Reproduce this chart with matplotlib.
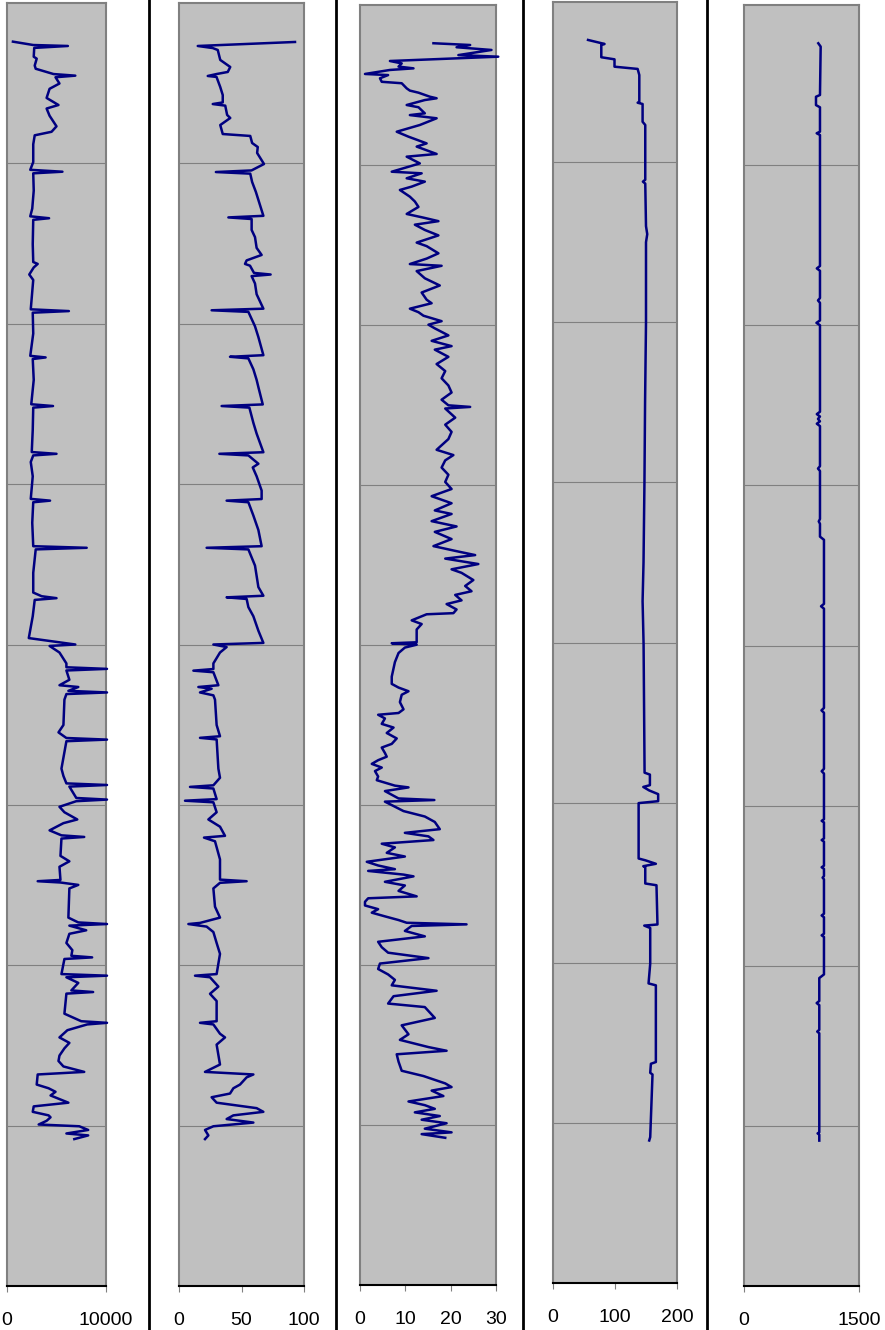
import matplotlib.pyplot as plt
from matplotlib.lines import Line2D
from matplotlib.ticker import FuncFormatter

plt.rcParams['font.family'] = ['Liberation Sans', 'DejaVu Sans']

# (depth, value) readings for each track, depth increasing downwards
track_1 = [(24.1, 600), (26.2, 2650), (26.8, 6150), (28.0, 2750), (33.5, 2700), (34.7, 3000),
           (39.0, 2800), (41.0, 2900), (44.3, 4700), (45.3, 6900), (46.3, 4900), (50.2, 5300),
           (53.5, 4300), (59.2, 4000), (63.6, 5200), (65.8, 4000), (70.3, 4300), (76.9, 5000),
           (80.3, 4500), (82.5, 2800), (88.1, 2650), (99.2, 2650), (104.0, 2350), (105.2, 5600),
           (106.2, 2650), (117.0, 2700), (128.2, 2550), (133.0, 2350), (134.2, 4250), (135.2, 2650),
           (150.4, 2600), (161.5, 2650), (162.7, 3100), (164.9, 2700), (169.3, 2250), (172.7, 2650),
           (191.0, 2400), (192.1, 6250), (193.1, 2600), (206.1, 2650), (220.0, 2350), (221.0, 3900),
           (222.0, 2600), (235.0, 2700), (250.2, 2450), (251.3, 4650), (252.3, 2650), (266.2, 2600),
           (280.0, 2500), (281.1, 5000), (282.1, 2650), (286.2, 2400), (295.1, 2600), (309.2, 2400),
           (310.3, 4350), (311.3, 2650), (324.1, 2550), (338.7, 2650), (339.7, 8050), (340.7, 2900),
           (355.3, 2650), (367.6, 2650), (369.9, 3500), (371.1, 5000), (372.2, 2800), (382.4, 2600),
           (396.0, 2200), (397.8, 4300), (400.0, 6900), (400.9, 4300), (405.0, 5300), (411.8, 6000),
           (414.2, 6000), (415.2, 10100), (416.2, 6000), (422.0, 6300), (425.4, 5300), (426.5, 7200),
           (428.9, 6200), (429.9, 10100), (430.9, 6000), (434.4, 5800), (450.2, 5700), (454.8, 5200),
           (458.3, 6000), (459.3, 10100), (460.3, 6000), (477.4, 5500), (482.0, 5700), (486.6, 6000),
           (487.6, 10100), (488.6, 6300), (495.7, 7000), (496.7, 10100), (497.7, 7000), (501.2, 5300),
           (504.6, 5800), (509.1, 7100), (511.4, 5700), (515.9, 4300), (519.0, 5500), (520.0, 7800),
           (521.0, 5500), (531.8, 5400), (535.2, 6300), (538.6, 5300), (546.8, 5400), (547.6, 3100),
           (548.4, 5400), (549.9, 7200), (552.1, 6300), (570.3, 6200), (573.3, 7200), (574.3, 10100),
           (575.3, 6300), (578.2, 8000), (580.4, 6300), (586.1, 6000), (590.6, 6600), (594.1, 6500),
           (595.1, 8600), (596.1, 5800), (605.5, 5500), (606.5, 10100), (607.5, 6000), (611.0, 7200),
           (615.7, 6500), (616.7, 8700), (617.7, 6000), (630.2, 5800), (634.9, 7500), (635.9, 10100),
           (636.9, 8100), (640.5, 6100), (645.0, 5300), (648.4, 6300), (651.8, 5800), (656.3, 5300),
           (659.7, 5200), (663.1, 5700), (666.5, 7800), (668.1, 3100), (674.4, 3000), (676.7, 4200),
           (678.9, 4900), (681.2, 4400), (685.7, 6200), (688.0, 2700), (691.4, 2600), (693.6, 4200),
           (694.8, 4400), (697.0, 4000), (699.3, 3200), (700.4, 7300), (702.7, 8200), (704.9, 6000),
           (706.1, 8200), (708.4, 6800)]

track_2 = [(24.3, 92.8), (26.8, 15), (28.1, 27), (29.3, 31), (35.5, 33), (39.9, 41), (43.0, 39),
           (44.3, 30), (45.5, 23), (46.1, 30), (52.4, 33), (57.4, 35), (62.0, 35), (63.0, 27),
           (64.0, 37), (69.8, 38.5), (71.7, 41), (76.1, 33), (80.4, 34.5), (81.7, 35), (82.9, 57),
           (87.3, 58.5), (89.8, 63), (93.5, 62.5), (96.6, 65), (100.4, 68), (104.4, 58), (105.4, 29.5),
           (106.4, 57), (111.6, 58.5), (117.8, 61.5), (126.0, 64.8), (132.7, 67.5), (133.7, 39.5),
           (134.7, 58.1), (141.5, 58.1), (146.0, 60.8), (152.7, 62.1), (157.1, 66.1), (160.5, 54.1),
           (162.7, 52.8), (163.8, 56.8), (168.3, 60.0), (169.3, 73.3), (170.3, 58.1), (174.9, 60.8),
           (181.6, 62.1), (190.6, 67.5), (191.6, 26.1), (192.6, 55.5), (201.6, 60.8), (208.3, 63.5),
           (219.6, 67.5), (220.6, 40.8), (221.6, 55.5), (228.4, 59.5), (235.0, 62.1), (239.5, 63.5),
           (250.3, 67.0), (251.3, 34.1), (252.3, 56.3), (261.8, 59.5), (268.5, 62.1), (280.1, 67.5),
           (281.1, 32.3), (282.1, 55.5), (287.3, 63.5), (289.6, 59.0), (295.1, 62.1), (304.0, 66.1),
           (309.3, 66.1), (310.3, 38.1), (311.3, 55.5), (319.6, 59.5), (328.6, 63.5), (338.7, 66.1),
           (339.7, 22.1), (340.7, 55.5), (350.8, 60.8), (364.2, 63.5), (369.6, 67.5), (370.6, 38.1),
           (371.6, 54.1), (376.7, 55.5), (382.4, 59.5), (391.4, 63.5), (399.0, 67.5), (400.0, 27.5),
           (401.6, 38.1), (405.0, 32.8), (411.8, 27.5), (415.3, 27.5), (416.3, 11.5), (417.3, 27.5),
           (425.4, 31.5), (426.5, 15.5), (427.6, 26.1), (429.9, 16.8), (431.7, 27.5), (434.4, 28.8),
           (450.2, 30.1), (457.2, 32.8), (458.2, 16.8), (459.2, 30.1), (477.4, 31.5), (483.1, 32.8),
           (487.8, 27.5), (488.8, 8.8), (489.8, 27.5), (496.4, 30.1), (497.4, 4.8), (498.4, 27.5),
           (504.6, 30.1), (509.1, 23.5), (513.6, 32.8), (519.3, 36.8), (520.4, 20.0), (522.7, 28.8),
           (534.0, 32.8), (546.6, 32.8), (547.6, 54.1), (548.6, 32.8), (552.1, 27.5), (563.5, 28.8),
           (570.3, 32.8), (573.6, 16.8), (574.3, 7.5), (575.9, 22.1), (579.3, 27.5), (586.1, 30.1),
           (592.9, 32.8), (605.5, 30.1), (606.5, 12.8), (607.5, 24.8), (613.3, 31.5), (617.8, 24.8),
           (622.3, 30.1), (634.9, 30.1), (635.9, 16.8), (636.9, 27.5), (642.7, 32.8), (645.0, 36.8),
           (649.5, 30.1), (661.9, 32.8), (666.5, 20.8), (668.1, 59.5), (669.9, 54.1), (674.4, 48.8),
           (676.7, 43.5), (680.0, 40.8), (682.3, 26.1), (685.7, 30.1), (689.1, 62.1), (691.4, 67.5),
           (693.6, 43.5), (695.9, 38.1), (698.1, 59.5), (700.4, 27.5), (702.7, 20.8), (706.1, 23.5),
           (708.4, 20.8)]

track_3 = [(23.9, 16.2), (24.6, 21.7), (25.0, 24.3), (26.4, 21.3), (28.1, 29.0), (31.3, 21.7),
           (32.3, 30.5), (35.0, 6.6), (36.5, 9.2), (38.5, 8.5), (39.6, 11.8), (40.6, 6.6), (43.1, 1.1),
           (43.8, 6.2), (45.8, 4.4), (48.0, 4.8), (48.9, 9.2), (52.1, 10.3), (53.5, 11.0), (54.8, 12.9),
           (57.3, 15.4), (58.3, 16.9), (59.4, 14.3), (62.5, 10.3), (63.9, 12.9), (67.7, 14.3),
           (68.8, 11.0), (70.8, 16.9), (75.0, 13.2), (79.2, 8.1), (82.3, 10.7), (86.5, 14.7),
           (88.5, 12.5), (93.1, 16.9), (94.8, 10.3), (99.0, 13.2), (104.2, 7.0), (105.2, 13.6),
           (108.3, 10.3), (110.4, 14.3), (113.5, 11.4), (115.6, 8.8), (119.8, 11.0), (122.8, 12.1),
           (126.2, 12.9), (130.6, 10.3), (132.9, 14.0), (135.1, 17.3), (137.3, 12.1), (140.6, 14.3),
           (144.0, 17.3), (148.5, 12.5), (150.7, 14.7), (155.2, 17.3), (158.5, 14.7), (161.9, 11.0),
           (163.0, 18.0), (166.3, 12.5), (170.8, 14.3), (175.3, 17.6), (179.7, 13.6), (184.2, 14.7),
           (186.4, 15.8), (189.8, 11.0), (192.0, 12.9), (194.2, 14.0), (197.6, 18.0), (199.8, 15.1),
           (202.1, 16.5), (206.5, 19.5), (209.9, 15.8), (213.2, 20.2), (215.4, 16.5), (219.9, 19.5),
           (224.4, 16.9), (228.8, 18.8), (233.3, 18.0), (237.8, 19.5), (242.2, 20.2), (246.7, 18.0),
           (250.2, 19.5), (251.2, 24.3), (252.2, 18.8), (257.9, 21.0), (262.3, 18.8), (266.8, 20.2),
           (271.3, 19.5), (278.0, 16.9), (281.3, 20.6), (284.6, 18.8), (289.1, 18.0), (293.6, 19.5),
           (298.1, 18.8), (302.5, 20.2), (307.0, 15.8), (311.4, 20.2), (315.9, 16.5), (318.1, 20.2),
           (322.6, 15.8), (325.9, 21.3), (329.3, 16.5), (333.8, 20.2), (338.2, 16.2), (341.6, 21.7),
           (343.8, 25.4), (346.0, 18.8), (349.4, 26.1), (352.7, 20.2), (354.9, 22.4), (359.4, 25.0),
           (363.1, 23.2), (366.4, 24.6), (368.7, 21.0), (372.1, 22.4), (374.4, 19.1), (377.8, 21.3),
           (380.1, 20.6), (380.8, 14.7), (384.6, 11.4), (386.9, 13.6), (390.3, 12.5), (398.3, 12.5),
           (398.9, 7.0), (399.8, 12.5), (401.6, 9.9), (405.0, 8.5), (410.7, 7.7), (419.8, 7.0),
           (424.3, 7.0), (426.6, 8.5), (428.9, 10.7), (431.1, 9.2), (435.7, 8.8), (440.2, 9.6),
           (442.5, 8.5), (443.6, 4.0), (445.9, 5.5), (449.3, 4.8), (451.6, 7.4), (455.0, 5.9),
           (458.4, 8.1), (461.8, 7.0), (464.1, 4.8), (467.5, 5.5), (469.8, 5.9), (472.0, 4.0),
           (474.3, 2.6), (476.6, 4.8), (478.8, 3.3), (482.2, 4.0), (484.5, 3.7), (487.9, 7.7),
           (489.0, 10.7), (491.3, 5.5), (495.9, 8.5), (496.9, 16.4), (497.9, 5.5), (503.8, 9.6),
           (507.2, 14.3), (510.6, 16.5), (515.1, 17.6), (517.4, 9.9), (519.6, 15.1), (521.9, 16.2),
           (524.2, 4.8), (526.5, 7.7), (529.9, 5.9), (532.2, 9.9), (535.5, 1.5), (537.8, 4.0),
           (540.1, 7.7), (541.2, 1.8), (543.5, 9.6), (544.6, 11.8), (548.0, 5.5), (550.3, 9.9),
           (553.7, 8.5), (557.1, 12.5), (558.3, 1.8), (560.5, 1.1), (562.8, 1.1), (565.1, 4.0),
           (567.3, 2.6), (569.6, 5.5), (571.9, 8.5), (573.6, 10.3), (574.6, 23.5), (575.6, 11.4),
           (578.7, 9.9), (582.1, 14.3), (584.3, 7.7), (585.5, 4.0), (588.9, 4.8), (592.3, 6.2),
           (595.7, 15.1), (599.1, 4.4), (602.5, 4.0), (605.9, 6.2), (609.3, 7.7), (612.7, 7.0),
           (616.1, 16.9), (619.5, 7.4), (624.1, 6.2), (626.3, 14.3), (633.1, 16.5), (637.7, 9.2),
           (643.3, 10.7), (646.8, 8.8), (651.3, 15.1), (653.6, 19.1), (655.8, 8.1), (660.4, 8.5),
           (666.1, 9.2), (669.4, 14.0), (674.0, 18.8), (676.3, 20.2), (678.5, 15.8), (681.9, 18.4),
           (685.3, 10.7), (687.6, 14.3), (689.9, 16.5), (692.1, 12.1), (694.4, 17.6), (696.7, 13.6),
           (698.9, 19.1), (702.3, 14.3), (704.6, 20.2), (705.7, 13.6), (708.0, 18.8)]

track_4 = [(23.7, 56.5), (26.2, 83.2), (26.9, 77.9), (34.5, 77.9), (35.8, 99.2), (40.4, 99.2),
           (41.8, 136.5), (45.6, 139.2), (62.3, 139.2), (62.9, 136.5), (63.7, 144.5), (74.8, 144.5),
           (76.8, 148.8), (111.0, 148.8), (112.2, 145.0), (113.4, 148.8), (140.0, 150.0),
           (145.0, 152.0), (150.0, 150.0), (200.0, 150.0), (250.0, 148.5), (300.0, 147.5),
           (350.0, 146.0), (374.2, 144.5), (401.0, 146.1), (481.3, 147.7), (482.5, 156.3),
           (489.1, 156.3), (490.2, 145.6), (492.4, 155.2), (494.7, 169.6), (499.1, 169.6),
           (500.3, 138.1), (534.9, 138.1), (536.0, 148.8), (538.2, 165.9), (539.7, 145.6),
           (540.4, 148.8), (550.5, 148.8), (551.6, 166.9), (576.1, 168.5), (576.8, 147.2),
           (578.3, 156.8), (600.6, 156.8), (612.9, 154.1), (614.1, 165.9), (662.0, 165.9),
           (663.1, 157.9), (668.7, 156.8), (669.8, 160.5), (708.9, 156.8), (711.0, 155.2)]

track_5 = [(23.9, 969), (26.0, 1000), (56.2, 991), (57.3, 939), (62.5, 939), (63.9, 991), (79.1, 991),
           (80.1, 948), (81.2, 991), (163.0, 991), (164.5, 950), (166.0, 991), (183.0, 991),
           (184.5, 965), (186.0, 991), (197.0, 991), (198.5, 945), (200.0, 991), (254.0, 991),
           (255.5, 950), (257.0, 991), (258.5, 965), (260.0, 991), (261.5, 950), (263.0, 991),
           (288.0, 991), (289.5, 965), (291.0, 991), (321.0, 991), (322.5, 975), (324.0, 991),
           (332.0, 991), (334.0, 1043), (374.0, 1043), (375.5, 1005), (377.0, 1043), (439.0, 1043),
           (440.5, 1010), (442.0, 1043), (477.0, 1043), (478.5, 1013), (480.0, 1043), (508.5, 1043),
           (509.5, 1013), (510.5, 1043), (520.5, 1043), (521.5, 1013), (522.5, 1043), (537.5, 1043),
           (538.5, 1013), (539.5, 1043), (544.0, 1043), (545.0, 1025), (546.0, 1043), (567.5, 1043),
           (568.6, 1013), (569.7, 1043), (580.0, 1043), (581.0, 1013), (582.0, 1043), (605.4, 1043),
           (607.7, 982), (622.0, 982), (623.3, 948), (624.6, 982), (640.0, 982), (641.1, 955),
           (642.2, 982), (704.0, 982), (704.7, 960), (705.5, 982), (709.2, 982)]

tracks = [track_1, track_2, track_3, track_4, track_5]
x_limits = [(0, 10000), (0, 100), (0, 30), (0, 200), (0, 1500)]
x_ticks = [[0, 10000], [0, 50, 100], [0, 10, 20, 30], [0, 100, 200], [0, 1500]]
depth_lines = [100, 200, 300, 400, 500, 600, 700]

W, H = 885, 1330
fig = plt.figure(figsize=(W / 100, H / 100), dpi=100)

# track frames in pixels: left, right, top, bottom
frames = [(7, 106, 3, 1286), (179, 304, 3, 1286), (360, 496, 5, 1285),
          (553, 677, 2, 1283), (744, 859, 5, 1286)]

for track, (x0, x1, y0, y1), xlim, ticks in zip(tracks, frames, x_limits, x_ticks):
    ax = fig.add_axes([x0 / W, 1 - y1 / H, (x1 - x0) / W, (y1 - y0) / H])
    ax.set_facecolor('#c0c0c0')
    depth, value = zip(*track)
    ax.plot(value, depth, color='#000080', lw=1.8, clip_on=False, zorder=3)
    ax.set_xlim(xlim)
    ax.set_ylim(800, 0)
    ax.set_xticks(ticks)
    ax.xaxis.set_major_formatter(FuncFormatter(lambda v, p: f'{v:g}'))
    ax.set_yticks(depth_lines)
    ax.tick_params(axis='y', length=0, labelleft=False)
    ax.tick_params(axis='x', length=4, width=0.8, color='#808080', pad=15, labelsize=14)
    ax.grid(axis='y', color='#808080', lw=0.8)
    ax.set_axisbelow(True)
    for side in ['left', 'right', 'top']:
        ax.spines[side].set_color('#808080')
        ax.spines[side].set_linewidth(1.5)
    ax.spines['bottom'].set_color('black')
    ax.spines['bottom'].set_linewidth(1.5)

# black dividers between the tracks
for xs in [149, 336, 523, 707]:
    fig.add_artist(Line2D([xs / W, xs / W], [0, 1], color='black', lw=2))

fig.savefig('out.png', dpi=100)
